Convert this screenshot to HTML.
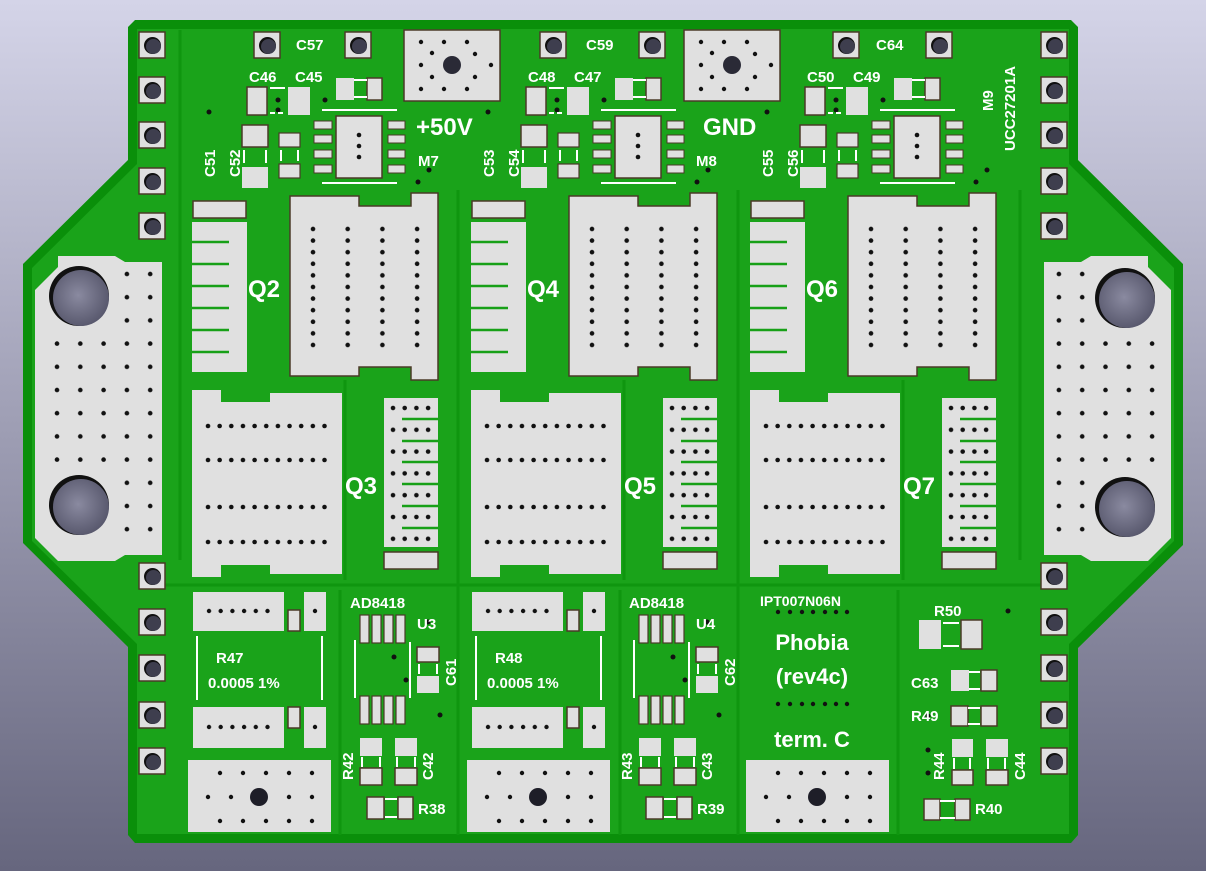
<!DOCTYPE html>
<html><head><meta charset="utf-8"><style>
html,body{margin:0;padding:0;width:1206px;height:871px;overflow:hidden}
svg{display:block}
text{font-family:"Liberation Sans","DejaVu Sans",sans-serif;fill:#fff;font-weight:bold}
.s{font-size:15px}
</style></head><body>
<svg width="1206" height="871" viewBox="0 0 1206 871" xmlns="http://www.w3.org/2000/svg">
<defs>
<linearGradient id="bg" x1="0" y1="0" x2="0" y2="1"><stop offset="0" stop-color="#d4d4e8"/><stop offset="1" stop-color="#66667e"/></linearGradient>
<radialGradient id="hole" cx="0.45" cy="0.45" r="0.6"><stop offset="0" stop-color="#8a8aa0"/><stop offset="1" stop-color="#55556a"/></radialGradient>
<pattern id="pq2" x="308" y="224" width="34.7" height="11.6" patternUnits="userSpaceOnUse"><circle cx="5" cy="5" r="2.3" fill="#111"/></pattern>
<pattern id="pq3" x="203" y="0" width="11.65" height="600" patternUnits="userSpaceOnUse"><circle cx="5" cy="426" r="2.3" fill="#111"/><circle cx="5" cy="460" r="2.3" fill="#111"/><circle cx="5" cy="507" r="2.3" fill="#111"/><circle cx="5" cy="542" r="2.3" fill="#111"/></pattern>
<pattern id="pin" x="388" y="403" width="11.7" height="21.8" patternUnits="userSpaceOnUse"><circle cx="5" cy="5" r="2.3" fill="#111"/></pattern>
<pattern id="pcon" x="50" y="267" width="23.3" height="23.2" patternUnits="userSpaceOnUse"><circle cx="7" cy="7" r="2.3" fill="#111"/></pattern>
<pattern id="prow" x="204" y="0" width="11.7" height="900" patternUnits="userSpaceOnUse"><circle cx="5" cy="611" r="2.2" fill="#111"/></pattern>
<pattern id="prow2" x="204" y="0" width="11.7" height="900" patternUnits="userSpaceOnUse"><circle cx="5" cy="727" r="2.2" fill="#111"/></pattern>

<g id="tht"><rect x="-13" y="-13" width="26" height="26" fill="#e0e0e0" stroke="#4a3a28" stroke-width="1.5"/><circle cx="0.5" cy="0.5" r="8.5" fill="#111"/><circle cx="1.5" cy="1.5" r="7.5" fill="#3e3e4e"/></g>

<g id="bigpad">
<rect x="0" y="0" width="96" height="71" fill="#e0e0e0" stroke="#4a3a28" stroke-width="1.5"/>
<circle cx="48" cy="35" r="9" fill="#2a2a36"/>
<g fill="#111"><circle cx="17" cy="12" r="2.2"/><circle cx="40" cy="12" r="2.2"/><circle cx="63" cy="12" r="2.2"/><circle cx="17" cy="59" r="2.2"/><circle cx="40" cy="59" r="2.2"/><circle cx="63" cy="59" r="2.2"/><circle cx="28" cy="23" r="2.2"/><circle cx="28" cy="47" r="2.2"/><circle cx="17" cy="35" r="2.2"/><circle cx="71" cy="24" r="2.2"/><circle cx="71" cy="47" r="2.2"/><circle cx="87" cy="35" r="2.2"/></g>
</g>

<g id="botpad">
<rect x="0" y="0" width="143" height="72" fill="#e0e0e0"/>
<circle cx="71" cy="37" r="9" fill="#1e1e28"/>
<g fill="#111"><circle cx="32" cy="13" r="2.2"/><circle cx="55" cy="13" r="2.2"/><circle cx="78" cy="13" r="2.2"/><circle cx="101" cy="13" r="2.2"/><circle cx="124" cy="13" r="2.2"/>
<circle cx="32" cy="61" r="2.2"/><circle cx="55" cy="61" r="2.2"/><circle cx="78" cy="61" r="2.2"/><circle cx="101" cy="61" r="2.2"/><circle cx="124" cy="61" r="2.2"/>
<circle cx="20" cy="37" r="2.2"/><circle cx="43" cy="37" r="2.2"/><circle cx="101" cy="37" r="2.2"/><circle cx="124" cy="37" r="2.2"/></g>
</g>

<g id="ch">
<rect x="247" y="87" width="20" height="28" fill="#e0e0e0" stroke="#4a3a28" stroke-width="1.5"/>
<rect x="288" y="87" width="22" height="28" fill="#e0e0e0"/>
<circle cx="278" cy="100" r="2.5" fill="#111"/><circle cx="278" cy="110" r="2.5" fill="#111"/>
<line x1="270" y1="88" x2="285" y2="88" stroke="#fff" stroke-width="2"/><line x1="270" y1="113" x2="285" y2="113" stroke="#fff" stroke-width="2" stroke-dasharray="5 3"/>
<rect x="336" y="78" width="18" height="22" fill="#e0e0e0"/>
<rect x="367" y="78" width="15" height="22" fill="#e0e0e0" stroke="#4a3a28" stroke-width="1.5"/>
<line x1="354" y1="80" x2="367" y2="80" stroke="#fff" stroke-width="2"/><line x1="354" y1="97" x2="367" y2="97" stroke="#fff" stroke-width="2"/>
<circle cx="325" cy="100" r="2.5" fill="#111"/>
<line x1="322" y1="110" x2="397" y2="110" stroke="#fff" stroke-width="2"/>
<line x1="322" y1="183" x2="397" y2="183" stroke="#fff" stroke-width="2"/>
<rect x="336" y="116" width="46" height="62" fill="#e0e0e0" stroke="#4a3a28" stroke-width="1.5"/>
<circle cx="359" cy="135" r="2.3" fill="#111"/><circle cx="359" cy="146" r="2.3" fill="#111"/><circle cx="359" cy="157" r="2.3" fill="#111"/>
<g fill="#e0e0e0" stroke="#4a3a28" stroke-width="1"><rect x="314" y="121" width="18" height="8"/><rect x="314" y="135" width="18" height="8"/><rect x="314" y="150" width="18" height="8"/><rect x="314" y="165" width="18" height="8"/>
<rect x="388" y="121" width="17" height="8"/><rect x="388" y="135" width="17" height="8"/><rect x="388" y="150" width="17" height="8"/><rect x="388" y="165" width="17" height="8"/></g>
<circle cx="429" cy="170" r="2.5" fill="#111"/><circle cx="418" cy="182" r="2.5" fill="#111"/>
<circle cx="209" cy="112" r="2.5" fill="#111"/>
<rect x="242" y="125" width="26" height="22" fill="#e0e0e0" stroke="#4a3a28" stroke-width="1.5"/>
<rect x="242" y="167" width="26" height="21" fill="#e0e0e0"/>
<line x1="244" y1="150" x2="244" y2="163" stroke="#fff" stroke-width="2"/><line x1="266" y1="150" x2="266" y2="163" stroke="#fff" stroke-width="2"/>
<rect x="279" y="133" width="21" height="14" fill="#e0e0e0" stroke="#4a3a28" stroke-width="1.2"/>
<rect x="279" y="164" width="21" height="14" fill="#e0e0e0" stroke="#4a3a28" stroke-width="1.2"/>
<line x1="281" y1="150" x2="281" y2="161" stroke="#fff" stroke-width="2"/><line x1="298" y1="150" x2="298" y2="161" stroke="#fff" stroke-width="2"/>
<rect x="193" y="201" width="53" height="17" fill="#e0e0e0" stroke="#4a3a28" stroke-width="1.5"/>
<rect x="192" y="222" width="55" height="150" fill="#e0e0e0"/>
<g stroke="#17a017" stroke-width="2.5"><line x1="192" y1="242" x2="229" y2="242"/><line x1="192" y1="264" x2="229" y2="264"/><line x1="192" y1="286" x2="229" y2="286"/><line x1="192" y1="308" x2="229" y2="308"/><line x1="192" y1="330" x2="229" y2="330"/><line x1="192" y1="352" x2="229" y2="352"/></g>
<path d="M290 196 H359 V206 H411 V193 H438 V380 H411 V367 H359 V376 H290 Z" fill="#e0e0e0" stroke="#4a3a28" stroke-width="1.5"/>
<rect x="308" y="224" width="118" height="128" fill="url(#pq2)"/>
<path d="M192 390 H221 V402 H270 V393 H342 V574 H270 V565 H221 V577 H192 Z" fill="#e0e0e0"/>
<rect x="203" y="415" width="130" height="140" fill="url(#pq3)"/>
<rect x="384" y="398" width="54" height="149" fill="#e0e0e0"/>
<rect x="388" y="403" width="47" height="150" fill="url(#pin)"/>
<g stroke="#17a017" stroke-width="2.5"><line x1="402" y1="419" x2="438" y2="419"/><line x1="402" y1="441" x2="438" y2="441"/><line x1="402" y1="462" x2="438" y2="462"/><line x1="402" y1="484" x2="438" y2="484"/><line x1="402" y1="506" x2="438" y2="506"/><line x1="402" y1="528" x2="438" y2="528"/></g>
<rect x="384" y="552" width="54" height="17" fill="#e0e0e0" stroke="#4a3a28" stroke-width="1.5"/>
</g>

<g id="sense">
<rect x="193" y="592" width="91" height="39" fill="#e0e0e0"/>
<rect x="204" y="600" width="66" height="20" fill="url(#prow)"/>
<rect x="288" y="610" width="12" height="21" fill="#e0e0e0" stroke="#4a3a28" stroke-width="1.5"/>
<rect x="304" y="592" width="22" height="39" fill="#e0e0e0"/><circle cx="315" cy="611" r="2.2" fill="#111"/>
<line x1="197" y1="636" x2="197" y2="700" stroke="#fff" stroke-width="2"/><line x1="322" y1="636" x2="322" y2="700" stroke="#fff" stroke-width="2"/>
<rect x="193" y="707" width="91" height="41" fill="#e0e0e0"/>
<rect x="204" y="716" width="66" height="20" fill="url(#prow2)"/>
<rect x="288" y="707" width="12" height="21" fill="#e0e0e0" stroke="#4a3a28" stroke-width="1.5"/>
<rect x="304" y="707" width="22" height="41" fill="#e0e0e0"/><circle cx="315" cy="727" r="2.2" fill="#111"/>
<use href="#botpad" x="188" y="760"/>
<g fill="#e0e0e0" stroke="#4a3a28" stroke-width="1.2"><rect x="360" y="615" width="9" height="28"/><rect x="372" y="615" width="9" height="28"/><rect x="384" y="615" width="9" height="28"/><rect x="396" y="615" width="9" height="28"/>
<rect x="360" y="696" width="9" height="28"/><rect x="372" y="696" width="9" height="28"/><rect x="384" y="696" width="9" height="28"/><rect x="396" y="696" width="9" height="28"/></g>
<line x1="355" y1="640" x2="355" y2="698" stroke="#fff" stroke-width="2"/><line x1="410" y1="642" x2="410" y2="698" stroke="#fff" stroke-width="2"/>
<circle cx="394" cy="657" r="2.5" fill="#111"/><circle cx="406" cy="680" r="2.5" fill="#111"/><circle cx="440" cy="715" r="2.5" fill="#111"/><circle cx="428" cy="622" r="2.5" fill="#111"/>
<rect x="417" y="647" width="22" height="15" fill="#e0e0e0" stroke="#4a3a28" stroke-width="1.5"/>
<rect x="417" y="676" width="22" height="17" fill="#e0e0e0"/>
<line x1="419" y1="664" x2="419" y2="674" stroke="#fff" stroke-width="2"/><line x1="437" y1="664" x2="437" y2="674" stroke="#fff" stroke-width="2"/>
<rect x="360" y="738" width="22" height="18" fill="#e0e0e0"/><rect x="360" y="768" width="22" height="17" fill="#e0e0e0" stroke="#4a3a28" stroke-width="1.5"/>
<rect x="395" y="738" width="22" height="18" fill="#e0e0e0"/><rect x="395" y="768" width="22" height="17" fill="#e0e0e0" stroke="#4a3a28" stroke-width="1.5"/>
<g stroke="#fff" stroke-width="2"><line x1="362" y1="757" x2="362" y2="767"/><line x1="380" y1="757" x2="380" y2="767"/><line x1="397" y1="757" x2="397" y2="767"/><line x1="415" y1="757" x2="415" y2="767"/></g>
<rect x="367" y="797" width="17" height="22" fill="#e0e0e0" stroke="#4a3a28" stroke-width="1.5"/><rect x="398" y="797" width="15" height="22" fill="#e0e0e0" stroke="#4a3a28" stroke-width="1.5"/>
<line x1="385" y1="799" x2="397" y2="799" stroke="#fff" stroke-width="2"/><line x1="385" y1="817" x2="397" y2="817" stroke="#fff" stroke-width="2"/>
</g>
</defs>

<rect width="1206" height="871" fill="url(#bg)"/>
<path d="M128 27 L135 20 H1071 L1078 27 V160 L1183 264 V545 L1078 648 V835 L1071 843 H135 L128 835 V647 L23 543 V264 L128 160 Z" fill="#0a8f0a"/>
<path d="M137 29 H1069 V164 L1174 268 V541 L1069 644 V834 H137 V644 L32 541 V268 L137 164 Z" fill="#1aa31a"/>
<g fill="none" stroke="#0f960f" stroke-width="3">
<line x1="180" y1="30" x2="180" y2="560"/><line x1="458" y1="190" x2="458" y2="835"/><line x1="738" y1="190" x2="738" y2="835"/><line x1="1020" y1="190" x2="1020" y2="560"/>
<line x1="345" y1="380" x2="345" y2="580"/><line x1="624" y1="380" x2="624" y2="580"/><line x1="903" y1="380" x2="903" y2="580"/>
<line x1="140" y1="585" x2="1068" y2="585"/><line x1="340" y1="590" x2="340" y2="835"/><line x1="620" y1="590" x2="620" y2="835"/><line x1="898" y1="590" x2="898" y2="835"/>
</g>

<path d="M35 290 L58 267 V256 H115 L125 262 H162 V555 H125 L115 561 H58 L35 538 Z" fill="#e0e0e0"/>
<path d="M1171 290 L1148 267 V256 H1091 L1081 262 H1044 V555 H1081 L1091 561 H1148 L1171 538 Z" fill="#e0e0e0"/>
<rect x="50" y="337" width="115" height="128" fill="url(#pcon)"/>
<rect x="120" y="267" width="45" height="70" fill="url(#pcon)"/>
<rect x="120" y="465" width="45" height="80" fill="url(#pcon)"/>
<rect x="1044" y="337" width="115" height="128" fill="url(#pcon)"/>
<rect x="1044" y="267" width="45" height="70" fill="url(#pcon)"/>
<rect x="1044" y="465" width="45" height="80" fill="url(#pcon)"/>
<circle cx="79" cy="296" r="30" fill="#111"/><circle cx="81" cy="298" r="28" fill="url(#hole)"/>
<circle cx="79" cy="505" r="30" fill="#111"/><circle cx="81" cy="507" r="28" fill="url(#hole)"/>
<circle cx="1125" cy="298" r="30" fill="#111"/><circle cx="1127" cy="300" r="28" fill="url(#hole)"/>
<circle cx="1125" cy="507" r="30" fill="#111"/><circle cx="1127" cy="509" r="28" fill="url(#hole)"/>

<use href="#tht" x="152" y="45"/><use href="#tht" x="152" y="90"/><use href="#tht" x="152" y="135"/><use href="#tht" x="152" y="181"/><use href="#tht" x="152" y="226"/>
<use href="#tht" x="152" y="576"/><use href="#tht" x="152" y="622"/><use href="#tht" x="152" y="668"/><use href="#tht" x="152" y="715"/><use href="#tht" x="152" y="761"/>
<use href="#tht" x="1054" y="45"/><use href="#tht" x="1054" y="90"/><use href="#tht" x="1054" y="135"/><use href="#tht" x="1054" y="181"/><use href="#tht" x="1054" y="226"/>
<use href="#tht" x="1054" y="576"/><use href="#tht" x="1054" y="622"/><use href="#tht" x="1054" y="668"/><use href="#tht" x="1054" y="715"/><use href="#tht" x="1054" y="761"/>
<use href="#tht" x="267" y="45"/><use href="#tht" x="358" y="45"/>
<use href="#tht" x="553" y="45"/><use href="#tht" x="652" y="45"/>
<use href="#tht" x="846" y="45"/><use href="#tht" x="939" y="45"/>

<use href="#bigpad" x="404" y="30"/><use href="#bigpad" x="684" y="30"/>
<use href="#ch"/><use href="#ch" x="279"/><use href="#ch" x="558"/>
<use href="#sense"/><use href="#sense" x="279"/>
<use href="#botpad" x="746" y="760"/>

<g fill="#111"><circle cx="778" cy="612" r="2.2"/><circle cx="790" cy="612" r="2.2"/><circle cx="802" cy="612" r="2.2"/><circle cx="813" cy="612" r="2.2"/><circle cx="825" cy="612" r="2.2"/><circle cx="836" cy="612" r="2.2"/><circle cx="847" cy="612" r="2.2"/>
<circle cx="778" cy="704" r="2.2"/><circle cx="790" cy="704" r="2.2"/><circle cx="802" cy="704" r="2.2"/><circle cx="813" cy="704" r="2.2"/><circle cx="825" cy="704" r="2.2"/><circle cx="836" cy="704" r="2.2"/><circle cx="847" cy="704" r="2.2"/>
<circle cx="1008" cy="611" r="2.5"/><circle cx="928" cy="716" r="2.5"/><circle cx="928" cy="750" r="2.5"/><circle cx="928" cy="773" r="2.5"/></g>
<rect x="919" y="620" width="22" height="29" fill="#e0e0e0"/>
<rect x="961" y="620" width="21" height="29" fill="#e0e0e0" stroke="#4a3a28" stroke-width="1.5"/>
<line x1="943" y1="623" x2="959" y2="623" stroke="#fff" stroke-width="2"/><line x1="943" y1="646" x2="959" y2="646" stroke="#fff" stroke-width="2"/>
<rect x="951" y="670" width="18" height="21" fill="#e0e0e0"/><rect x="981" y="670" width="16" height="21" fill="#e0e0e0" stroke="#4a3a28" stroke-width="1.5"/>
<line x1="969" y1="672" x2="980" y2="672" stroke="#fff" stroke-width="2"/><line x1="969" y1="689" x2="980" y2="689" stroke="#fff" stroke-width="2"/>
<rect x="951" y="706" width="17" height="20" fill="#e0e0e0" stroke="#4a3a28" stroke-width="1.5"/><rect x="981" y="706" width="16" height="20" fill="#e0e0e0" stroke="#4a3a28" stroke-width="1.5"/>
<line x1="968" y1="708" x2="980" y2="708" stroke="#fff" stroke-width="2"/><line x1="968" y1="724" x2="980" y2="724" stroke="#fff" stroke-width="2"/>
<rect x="952" y="739" width="21" height="18" fill="#e0e0e0"/><rect x="952" y="770" width="21" height="15" fill="#e0e0e0" stroke="#4a3a28" stroke-width="1.5"/>
<rect x="986" y="739" width="22" height="18" fill="#e0e0e0"/><rect x="986" y="770" width="22" height="15" fill="#e0e0e0" stroke="#4a3a28" stroke-width="1.5"/>
<g stroke="#fff" stroke-width="2"><line x1="954" y1="758" x2="954" y2="769"/><line x1="970" y1="758" x2="970" y2="769"/><line x1="988" y1="758" x2="988" y2="769"/><line x1="1005" y1="758" x2="1005" y2="769"/></g>
<rect x="924" y="799" width="16" height="21" fill="#e0e0e0" stroke="#4a3a28" stroke-width="1.5"/><rect x="955" y="799" width="15" height="21" fill="#e0e0e0" stroke="#4a3a28" stroke-width="1.5"/>
<line x1="940" y1="801" x2="955" y2="801" stroke="#fff" stroke-width="2"/><line x1="940" y1="818" x2="955" y2="818" stroke="#fff" stroke-width="2"/>

<g class="s">
<text x="296" y="50">C57</text><text x="586" y="50">C59</text><text x="876" y="50">C64</text>
<text x="249" y="82">C46</text><text x="295" y="82">C45</text>
<text x="528" y="82">C48</text><text x="574" y="82">C47</text>
<text x="807" y="82">C50</text><text x="853" y="82">C49</text>
<text x="418" y="166">M7</text><text x="696" y="166">M8</text>
<text transform="translate(215,177) rotate(-90)">C51</text><text transform="translate(240,177) rotate(-90)">C52</text>
<text transform="translate(494,177) rotate(-90)">C53</text><text transform="translate(519,177) rotate(-90)">C54</text>
<text transform="translate(773,177) rotate(-90)">C55</text><text transform="translate(798,177) rotate(-90)">C56</text>
<text transform="translate(993,111) rotate(-90)">M9</text>
<text transform="translate(1015,151) rotate(-90)">UCC27201A</text>
<text x="350" y="608">AD8418</text><text x="629" y="608">AD8418</text>
<text x="417" y="629">U3</text><text x="696" y="629">U4</text>
<text transform="translate(456,686) rotate(-90)">C61</text><text transform="translate(735,686) rotate(-90)">C62</text>
<text x="216" y="663">R47</text><text x="495" y="663">R48</text>
<text x="208" y="688">0.0005 1%</text><text x="487" y="688">0.0005 1%</text>
<text transform="translate(353,780) rotate(-90)">R42</text><text transform="translate(433,780) rotate(-90)">C42</text>
<text transform="translate(632,780) rotate(-90)">R43</text><text transform="translate(712,780) rotate(-90)">C43</text>
<text transform="translate(944,780) rotate(-90)">R44</text><text transform="translate(1025,780) rotate(-90)">C44</text>
<text x="418" y="814">R38</text><text x="697" y="814">R39</text><text x="975" y="814">R40</text>
<text x="934" y="616">R50</text><text x="911" y="688">C63</text><text x="911" y="721">R49</text>
<text x="760" y="606" style="font-size:14px">IPT007N06N</text>
</g>
<g style="font-size:24px">
<text x="248" y="297">Q2</text><text x="527" y="297">Q4</text><text x="806" y="297">Q6</text>
<text x="345" y="494">Q3</text><text x="624" y="494">Q5</text><text x="903" y="494">Q7</text>
<text x="416" y="135">+50V</text><text x="703" y="135">GND</text>
</g>
<g style="font-size:22px" text-anchor="middle">
<text x="812" y="650">Phobia</text><text x="812" y="684">(rev4c)</text><text x="812" y="747">term. C</text>
</g>
</svg>
</body></html>
